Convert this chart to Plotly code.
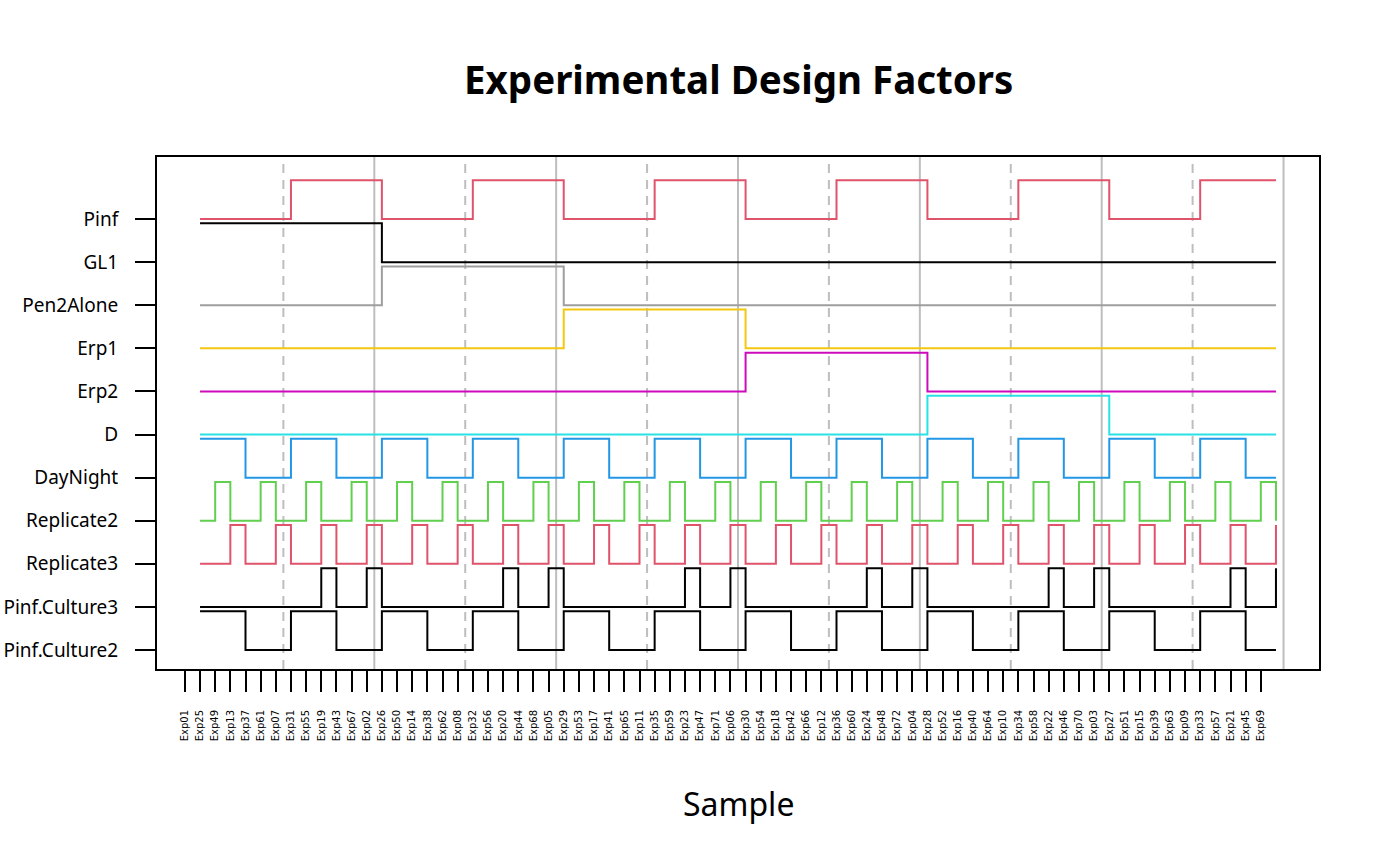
import plotly.graph_objects as go

# ---------------- data ----------------
sample_labels = [
    "Exp01", "Exp25", "Exp49", "Exp13", "Exp37", "Exp61",
    "Exp07", "Exp31", "Exp55", "Exp19", "Exp43", "Exp67",
    "Exp02", "Exp26", "Exp50", "Exp14", "Exp38", "Exp62",
    "Exp08", "Exp32", "Exp56", "Exp20", "Exp44", "Exp68",
    "Exp05", "Exp29", "Exp53", "Exp17", "Exp41", "Exp65",
    "Exp11", "Exp35", "Exp59", "Exp23", "Exp47", "Exp71",
    "Exp06", "Exp30", "Exp54", "Exp18", "Exp42", "Exp66",
    "Exp12", "Exp36", "Exp60", "Exp24", "Exp48", "Exp72",
    "Exp04", "Exp28", "Exp52", "Exp16", "Exp40", "Exp64",
    "Exp10", "Exp34", "Exp58", "Exp22", "Exp46", "Exp70",
    "Exp03", "Exp27", "Exp51", "Exp15", "Exp39", "Exp63",
    "Exp09", "Exp33", "Exp57", "Exp21", "Exp45", "Exp69",
]

factor_names = ["Pinf", "GL1", "Pen2Alone", "Erp1", "Erp2", "D", "DayNight",
                "Replicate2", "Replicate3", "Pinf.Culture3", "Pinf.Culture2"]

Pinf = [0, 0, 0, 0, 0, 0, 1, 1, 1, 1, 1, 1,
        0, 0, 0, 0, 0, 0, 1, 1, 1, 1, 1, 1,
        0, 0, 0, 0, 0, 0, 1, 1, 1, 1, 1, 1,
        0, 0, 0, 0, 0, 0, 1, 1, 1, 1, 1, 1,
        0, 0, 0, 0, 0, 0, 1, 1, 1, 1, 1, 1,
        0, 0, 0, 0, 0, 0, 1, 1, 1, 1, 1, 1]
GL1 = [1, 1, 1, 1, 1, 1, 1, 1, 1, 1, 1, 1,
       0, 0, 0, 0, 0, 0, 0, 0, 0, 0, 0, 0,
       0, 0, 0, 0, 0, 0, 0, 0, 0, 0, 0, 0,
       0, 0, 0, 0, 0, 0, 0, 0, 0, 0, 0, 0,
       0, 0, 0, 0, 0, 0, 0, 0, 0, 0, 0, 0,
       0, 0, 0, 0, 0, 0, 0, 0, 0, 0, 0, 0]
Pen2Alone = [0, 0, 0, 0, 0, 0, 0, 0, 0, 0, 0, 0,
             1, 1, 1, 1, 1, 1, 1, 1, 1, 1, 1, 1,
             0, 0, 0, 0, 0, 0, 0, 0, 0, 0, 0, 0,
             0, 0, 0, 0, 0, 0, 0, 0, 0, 0, 0, 0,
             0, 0, 0, 0, 0, 0, 0, 0, 0, 0, 0, 0,
             0, 0, 0, 0, 0, 0, 0, 0, 0, 0, 0, 0]
Erp1 = [0, 0, 0, 0, 0, 0, 0, 0, 0, 0, 0, 0,
        0, 0, 0, 0, 0, 0, 0, 0, 0, 0, 0, 0,
        1, 1, 1, 1, 1, 1, 1, 1, 1, 1, 1, 1,
        0, 0, 0, 0, 0, 0, 0, 0, 0, 0, 0, 0,
        0, 0, 0, 0, 0, 0, 0, 0, 0, 0, 0, 0,
        0, 0, 0, 0, 0, 0, 0, 0, 0, 0, 0, 0]
Erp2 = [0, 0, 0, 0, 0, 0, 0, 0, 0, 0, 0, 0,
        0, 0, 0, 0, 0, 0, 0, 0, 0, 0, 0, 0,
        0, 0, 0, 0, 0, 0, 0, 0, 0, 0, 0, 0,
        1, 1, 1, 1, 1, 1, 1, 1, 1, 1, 1, 1,
        0, 0, 0, 0, 0, 0, 0, 0, 0, 0, 0, 0,
        0, 0, 0, 0, 0, 0, 0, 0, 0, 0, 0, 0]
D = [0, 0, 0, 0, 0, 0, 0, 0, 0, 0, 0, 0,
     0, 0, 0, 0, 0, 0, 0, 0, 0, 0, 0, 0,
     0, 0, 0, 0, 0, 0, 0, 0, 0, 0, 0, 0,
     0, 0, 0, 0, 0, 0, 0, 0, 0, 0, 0, 0,
     1, 1, 1, 1, 1, 1, 1, 1, 1, 1, 1, 1,
     0, 0, 0, 0, 0, 0, 0, 0, 0, 0, 0, 0]
DayNight = [1, 1, 1, 0, 0, 0, 1, 1, 1, 0, 0, 0,
            1, 1, 1, 0, 0, 0, 1, 1, 1, 0, 0, 0,
            1, 1, 1, 0, 0, 0, 1, 1, 1, 0, 0, 0,
            1, 1, 1, 0, 0, 0, 1, 1, 1, 0, 0, 0,
            1, 1, 1, 0, 0, 0, 1, 1, 1, 0, 0, 0,
            1, 1, 1, 0, 0, 0, 1, 1, 1, 0, 0, 0]
Replicate2 = [0, 1, 0, 0, 1, 0, 0, 1, 0, 0, 1, 0,
              0, 1, 0, 0, 1, 0, 0, 1, 0, 0, 1, 0,
              0, 1, 0, 0, 1, 0, 0, 1, 0, 0, 1, 0,
              0, 1, 0, 0, 1, 0, 0, 1, 0, 0, 1, 0,
              0, 1, 0, 0, 1, 0, 0, 1, 0, 0, 1, 0,
              0, 1, 0, 0, 1, 0, 0, 1, 0, 0, 1, 0]
Replicate3 = [0, 0, 1, 0, 0, 1, 0, 0, 1, 0, 0, 1,
              0, 0, 1, 0, 0, 1, 0, 0, 1, 0, 0, 1,
              0, 0, 1, 0, 0, 1, 0, 0, 1, 0, 0, 1,
              0, 0, 1, 0, 0, 1, 0, 0, 1, 0, 0, 1,
              0, 0, 1, 0, 0, 1, 0, 0, 1, 0, 0, 1,
              0, 0, 1, 0, 0, 1, 0, 0, 1, 0, 0, 1]
Pinf_Culture3 = [0, 0, 0, 0, 0, 0, 0, 0, 1, 0, 0, 1,
                 0, 0, 0, 0, 0, 0, 0, 0, 1, 0, 0, 1,
                 0, 0, 0, 0, 0, 0, 0, 0, 1, 0, 0, 1,
                 0, 0, 0, 0, 0, 0, 0, 0, 1, 0, 0, 1,
                 0, 0, 0, 0, 0, 0, 0, 0, 1, 0, 0, 1,
                 0, 0, 0, 0, 0, 0, 0, 0, 1, 0, 0, 1]
Pinf_Culture2 = [1, 1, 1, 0, 0, 0, 1, 1, 1, 0, 0, 0,
                 1, 1, 1, 0, 0, 0, 1, 1, 1, 0, 0, 0,
                 1, 1, 1, 0, 0, 0, 1, 1, 1, 0, 0, 0,
                 1, 1, 1, 0, 0, 0, 1, 1, 1, 0, 0, 0,
                 1, 1, 1, 0, 0, 0, 1, 1, 1, 0, 0, 0,
                 1, 1, 1, 0, 0, 0, 1, 1, 1, 0, 0, 0]

factor_values = [Pinf, GL1, Pen2Alone, Erp1, Erp2, D, DayNight,
                 Replicate2, Replicate3, Pinf_Culture3, Pinf_Culture2]

factor_colors = ["#DF536B", "#000000", "#9E9E9E", "#F5C710", "#CD0BBC", "#28E2E5",
                 "#2297E6", "#61D04F", "#DF536B", "#000000", "#000000"]

block_size = 6

# ---------------- figure ----------------
n = len(sample_labels)
tick_pos = list(range(1, n + 1))
line_x = [p + 1 for p in tick_pos]
n_f = len(factor_names)
levels = [n_f - i for i in range(n_f)]
step_h = 0.9

fig = go.Figure()

for name, vals, col, lev in zip(factor_names, factor_values, factor_colors, levels):
    fig.add_trace(go.Scatter(
        x=line_x, y=[lev + step_h * v for v in vals],
        mode="lines", line=dict(color=col, width=2, shape="hv"),
        name=name, showlegend=False, hoverinfo="skip",
    ))

shapes = []
for k in range(1, n // block_size + 1):
    xb = k * block_size + 1.5
    shapes.append(dict(
        type="line", xref="x", yref="paper", x0=xb, x1=xb, y0=0, y1=1,
        line=dict(color="#BEBEBE", width=2,
                  dash="solid" if k % 2 == 0 else "9px,7px"),
        layer="below",
    ))

fig.update_layout(
    width=1400, height=865,
    margin=dict(l=157, r=81, t=157, b=196),
    paper_bgcolor="white", plot_bgcolor="white",
    font=dict(family="Noto Sans", color="black"),
    shapes=shapes,
    xaxis=dict(
        range=[-0.84, 75.84], showgrid=False, zeroline=False, automargin=False,
        showline=True, linecolor="black", linewidth=2, mirror=True,
        tickmode="array", tickvals=tick_pos, ticktext=sample_labels,
        tickangle=-90, ticks="outside", ticklen=21, tickwidth=2, tickcolor="black",
        tickfont=dict(family="DejaVu Sans", size=10, color="black"),
        ticklabelstandoff=14,
    ),
    yaxis=dict(
        range=[0.56, 12.44], showgrid=False, zeroline=False, automargin=False,
        showline=True, linecolor="black", linewidth=2, mirror=True,
        tickmode="array", tickvals=levels, ticktext=factor_names,
        ticks="outside", ticklen=20, tickwidth=2, tickcolor="black",
        tickfont=dict(family="Noto Sans", size=19, color="black"),
        ticklabelstandoff=13,
    ),
    annotations=[
        dict(text="<b>Experimental Design Factors</b>", xref="paper", yref="paper",
             x=0.5, y=1 + (157 - 79) / 511.5, xanchor="center", yanchor="middle",
             showarrow=False, font=dict(family="Noto Sans", size=38.5, color="black")),
        dict(text="Sample", xref="paper", yref="paper",
             x=0.5, y=-(803 - 668.5) / 511.5, xanchor="center", yanchor="middle",
             showarrow=False, font=dict(family="Noto Sans", size=32, color="black")),
    ],
)

fig.write_html("out.html")
